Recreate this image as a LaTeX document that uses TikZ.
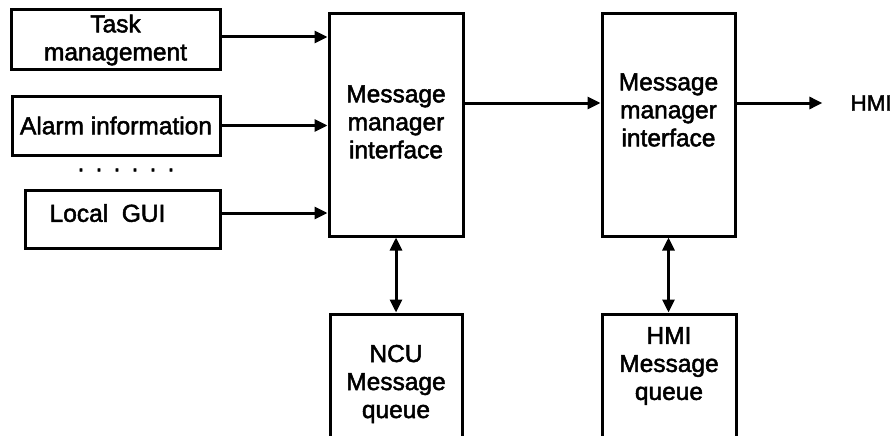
\documentclass[tikz,border=0pt]{standalone}
\usepackage{fontspec}
\setmainfont{Liberation Sans}[FakeBold=2]
\usetikzlibrary{arrows.meta}
\begin{document}
\begin{tikzpicture}[x=1pt,y=-1pt,
  box/.style={draw=black, line width=3pt, inner sep=0pt, align=center, font=\fontsize{24.5}{28}\selectfont},
  lbl/.style={inner sep=0pt, align=center, font=\fontsize{24.5}{28}\selectfont},
  arr/.style={line width=3pt, -{Triangle[length=13pt,width=12pt]}},
  darr/.style={line width=3pt, {Triangle[length=13pt,width=12pt]}-{Triangle[length=13pt,width=12pt]}}]
\useasboundingbox (0,0) rectangle (894,436);
\node[box, minimum width=209pt, minimum height=60pt] (task) at (115.5,40) {Task\\management};
\node[box, minimum width=208pt, minimum height=59pt] (alarm) at (116,125.5) {Alarm information};
\node[lbl] (dots) at (126,170) {\spaceskip=8.9pt\relax . . . . . .};
\node[box, minimum width=195pt, minimum height=58pt, label={[lbl,xshift=-15pt,yshift=6pt]center:Local\ \ GUI}] (gui) at (122.5,219) {};
\node[box, minimum width=134pt, minimum height=222pt, label={[lbl,yshift=3pt]center:Message\\manager\\interface}] (mm1) at (396,125) {};
\node[box, minimum width=133pt, minimum height=222pt, label={[lbl,yshift=15pt]center:Message\\manager\\interface}] (mm2) at (668.5,125) {};
\node[box, minimum width=132pt, minimum height=136pt, label={[lbl,yshift=-2pt]center:NCU\\Message\\queue}] (ncu) at (396,382) {};
\node[box, minimum width=134pt, minimum height=136pt, label={[lbl,yshift=16pt]center:HMI\\Message\\queue}] (hmiq) at (669,382) {};
\node[lbl, font=\fontsize{22.5}{26}\selectfont, anchor=east] (hmi) at (892,103) {HMI};
\draw[arr] ([yshift=3pt]task.east) -- ([yshift=3pt]task.east -| mm1.west);
\draw[arr] (alarm.east) -- (alarm.east -| mm1.west);
\draw[arr] ([yshift=6pt]gui.east) -- ([yshift=6pt]gui.east -| mm1.west);
\draw[arr] ([yshift=22pt]mm1.east) -- ([yshift=22pt]mm2.west);
\draw[arr, shorten >=28pt] ([yshift=22pt]mm2.east) -- (hmi.west);
\draw[darr] (mm1.south) -- (ncu.north);
\draw[darr] (mm2.south) -- (mm2.south |- hmiq.north);
\end{tikzpicture}
\end{document}
